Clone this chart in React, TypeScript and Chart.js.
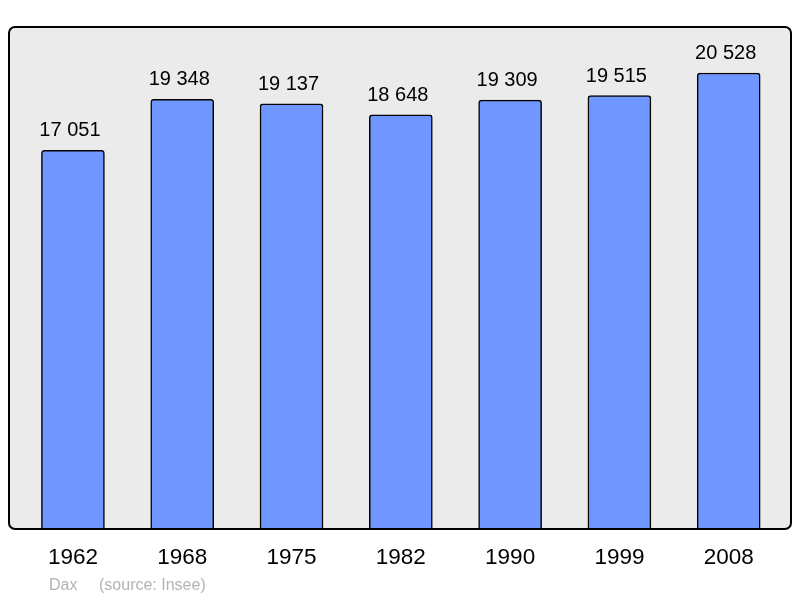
import React, { useEffect, useRef } from "react";
import { Chart, registerables } from "chart.js";

Chart.register(...registerables);

const years = ["1962", "1968", "1975", "1982", "1990", "1999", "2008"];
const population = [17051, 19348, 19137, 18648, 19309, 19515, 20528];
const yMax = 22600;
const footerPlace = "Dax";
const footerSource = "(source: Insee)";

const FONT = "'Liberation Sans', Arial, sans-serif";

const fmt = (v: number) => {
  const s = String(v);
  return s.replace(/\B(?=(\d{3})+(?!\d))/g, " ");
};

function roundRect(ctx: CanvasRenderingContext2D, x: number, y: number, w: number, h: number, r: number) {
  ctx.beginPath();
  ctx.moveTo(x + r, y);
  ctx.lineTo(x + w - r, y);
  ctx.arcTo(x + w, y, x + w, y + r, r);
  ctx.lineTo(x + w, y + h - r);
  ctx.arcTo(x + w, y + h, x + w - r, y + h, r);
  ctx.lineTo(x + r, y + h);
  ctx.arcTo(x, y + h, x, y + h - r, r);
  ctx.lineTo(x, y + r);
  ctx.arcTo(x, y, x + r, y, r);
  ctx.closePath();
}

const framePlugin = {
  id: "frame",
  beforeDatasetsDraw(chart: any) {
    const { ctx, chartArea: a } = chart;
    ctx.save();
    roundRect(ctx, a.left, a.top, a.right - a.left, a.bottom - a.top, 6);
    ctx.fillStyle = "#ebebeb";
    ctx.fill();
    ctx.restore();
  },
  afterDatasetsDraw(chart: any) {
    const { ctx, chartArea: a } = chart;
    ctx.save();
    roundRect(ctx, a.left, a.top, a.right - a.left, a.bottom - a.top, 6);
    ctx.lineWidth = 2;
    ctx.strokeStyle = "#000";
    ctx.stroke();

    // value labels
    const meta = chart.getDatasetMeta(0);
    ctx.fillStyle = "#000";
    ctx.font = `20px ${FONT}`;
    ctx.textAlign = "center";
    ctx.textBaseline = "alphabetic";
    meta.data.forEach((bar: any, i: number) => {
      ctx.fillText(fmt(population[i]), bar.x - 3, bar.y - 14);
    });

    // footer
    ctx.fillStyle = "#b3b3b3";
    ctx.font = `16px ${FONT}`;
    ctx.textAlign = "left";
    ctx.fillText(footerPlace, 49, 590);
    ctx.fillText(footerSource, 99, 590);
    ctx.restore();
  },
};

export default function App() {
  const ref = useRef<HTMLCanvasElement>(null);
  useEffect(() => {
    document.body.style.margin = "0";
    const chart = new Chart(ref.current!, {
      type: "bar",
      data: {
        datasets: [
          {
            data: population.map((v, i) => ({ x: i, y: v })),
            backgroundColor: "#7097ff",
            borderColor: "#000",
            borderWidth: 1.5,
            borderRadius: 3,
            barThickness: 63,
          },
        ],
      },
      options: {
        animation: false,
        responsive: false,
        maintainAspectRatio: false,
        layout: { padding: { left: 9, right: 9, top: 27, bottom: 12 } },
        plugins: { legend: { display: false }, tooltip: { enabled: false } },
        scales: {
          x: {
            type: "linear",
            offset: false,
            min: -0.585,
            max: 6.57,
            grid: { display: false, drawTicks: false },
            border: { display: false },
            ticks: {
              stepSize: 1,
              includeBounds: false,
              autoSkip: false,
              maxRotation: 0,
              padding: 15,
              color: "#000",
              font: { family: FONT, size: 22.5 },
              callback: (v: any) => (Number.isInteger(v) ? years[v] ?? "" : ""),
            },
          },
          y: {
            display: false,
            min: 0,
            max: yMax,
          },
        },
      },
      plugins: [framePlugin],
    });
    return () => chart.destroy();
  }, []);
  return (
    <div style={{ width: 800, height: 598 }}>
      <canvas ref={ref} width={800} height={598} />
    </div>
  );
}
